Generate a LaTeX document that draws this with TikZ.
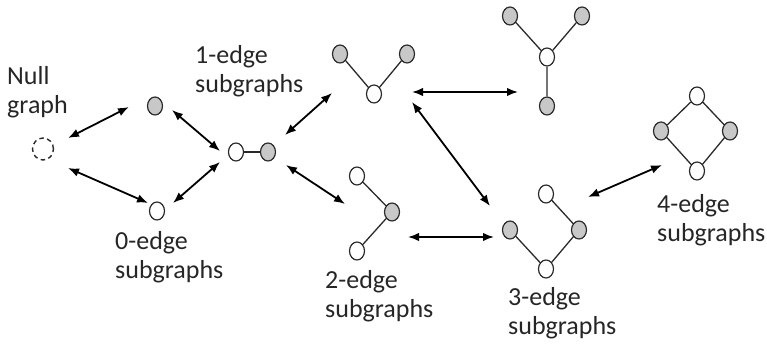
\documentclass[tikz,border=0pt]{standalone}
\usepackage{fontspec}
\setmainfont{Carlito}
\usetikzlibrary{arrows.meta,shapes.geometric}
\definecolor{vgray}{HTML}{C8C8C8}
\definecolor{vline}{HTML}{2A2A2A}
\tikzset{
  vtx/.style={ellipse, draw=vline, line width=1.2pt, minimum width=15pt, minimum height=18pt, inner sep=0pt},
  gv/.style={vtx, fill=vgray},
  wv/.style={vtx, fill=white},
  nullv/.style={ellipse, draw=vline, line width=1.4pt, dash pattern=on 4.5pt off 3.5pt, minimum width=21pt, minimum height=22pt, inner sep=0pt},
  edg/.style={draw=vline, line width=1.3pt},
  arr/.style={draw=black, line width=1.8pt, {Latex[length=11pt,width=8.5pt]}-{Latex[length=11pt,width=8.5pt]}},
  lbl/.style={font=\fontsize{26}{29}\selectfont, align=left, anchor=base west, inner sep=0pt, text=black!85},
}
\begin{document}
\begin{tikzpicture}[x=1pt,y=-1pt]
\useasboundingbox (0,0) rectangle (767,344);
% null graph
\node[nullv] (n0) at (43,149) {};
% 0-edge
\node[gv] (a1) at (155,106) {};
\node[wv] (a2) at (157,211) {};
% 1-edge
\node[wv] (b1) at (236,152) {};
\node[gv] (b2) at (268,152) {};
\draw[edg] (b1) -- (b2);
% 2-edge V
\node[gv] (c1) at (340,54) {};
\node[gv] (c2) at (407,54) {};
\node[wv] (c3) at (374,94) {};
\draw[edg] (c1) -- (c3) (c2) -- (c3);
% 2-edge path
\node[wv] (d1) at (357,176) {};
\node[gv] (d2) at (392,212) {};
\node[wv] (d3) at (357,251) {};
\draw[edg] (d1) -- (d2) (d2) -- (d3);
% 3-edge star
\node[gv] (e1) at (510,16) {};
\node[gv] (e2) at (582,16) {};
\node[wv] (e3) at (547,57) {};
\node[gv] (e4) at (547,106) {};
\draw[edg] (e1) -- (e3) (e2) -- (e3) (e3) -- (e4);
% 3-edge path
\node[wv] (f1) at (546,194) {};
\node[gv] (f2) at (579,230) {};
\node[wv] (f3) at (546,269) {};
\node[gv] (f4) at (510,230) {};
\draw[edg] (f1) -- (f2) (f2) -- (f3) (f3) -- (f4);
% 4-edge cycle
\node[wv] (g1) at (697,96) {};
\node[gv] (g2) at (730,131) {};
\node[wv] (g3) at (697,171) {};
\node[gv] (g4) at (661,131) {};
\draw[edg] (g1) -- (g2) (g2) -- (g3) (g3) -- (g4) (g4) -- (g1);
% arrow endpoints
\coordinate (p1) at (68,138); \coordinate (q1) at (129,107);
\coordinate (p2) at (68,168); \coordinate (q2) at (148,203);
\coordinate (p3) at (172,110); \coordinate (q3) at (220,151);
\coordinate (p4) at (173,203); \coordinate (q4) at (220,162);
\coordinate (p5) at (285,135); \coordinate (q5) at (332,93);
\coordinate (p6) at (286,165); \coordinate (q6) at (345,204);
\coordinate (p7) at (412,92); \coordinate (q7) at (518,92);
\coordinate (p8) at (412,102); \coordinate (q8) at (490,206);
\coordinate (p9) at (408,237); \coordinate (q9) at (494,237);
\coordinate (p10) at (588,197); \coordinate (q10) at (662,165);
\foreach \i in {1,...,10} {\draw[arr] (p\i) -- (q\i);}
% labels (anchor = baseline of the last line)
\node[lbl] (t0) at (7,114) {Null\\graph};
\node[lbl] (t1) at (195,93) {1-edge\\subgraphs};
\node[lbl] (t2) at (115,279) {0-edge\\subgraphs};
\node[lbl] (t3) at (325,317) {2-edge\\subgraphs};
\node[lbl] (t4) at (508,334) {3-edge\\subgraphs};
\node[lbl] (t5) at (657,242) {4-edge\\subgraphs};
\end{tikzpicture}
\end{document}
